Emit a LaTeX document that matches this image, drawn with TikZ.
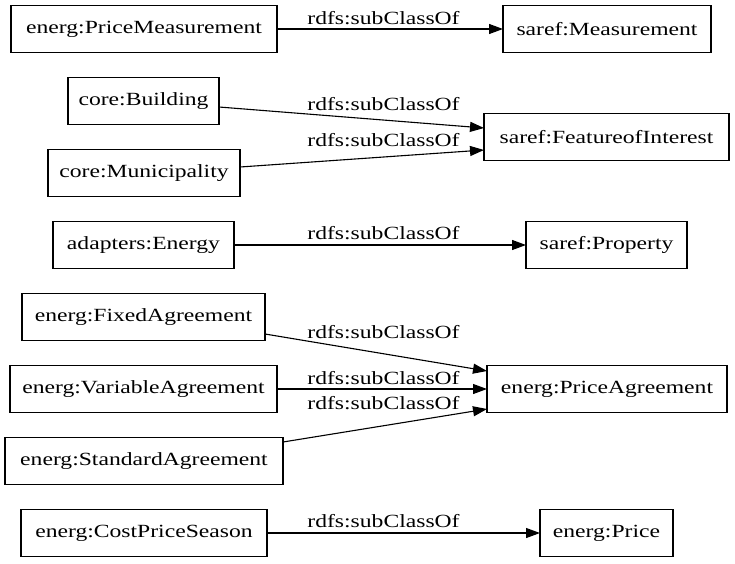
\documentclass[tikz,border=0pt]{standalone}
\usepackage{fontspec}
\setmainfont{Liberation Serif}
\usetikzlibrary{arrows.meta}
\newcommand{\hs}[1]{\scalebox{1.27}[1]{#1}}
\tikzset{
  cls/.style={draw, line width=1.1pt, minimum height=47pt, inner sep=0pt, outer sep=0pt,
    font=\fontsize{18.6}{22}\selectfont},
  lbl/.style={inner sep=0pt, font=\fontsize{18.6}{22}\selectfont},
  sub/.style={line width=1.1pt, -{Triangle[length=14pt,width=10pt]}}
}
\begin{document}
\begin{tikzpicture}[x=1pt, y=-1pt]
\useasboundingbox (0,0) rectangle (735,563);
\node[cls, minimum width=266pt] (pm) at (144,29) {\hs{energ:PriceMeasurement}};
\node[cls, minimum width=208pt] (sm) at (607,29) {\hs{saref:Measurement}};
\node[cls, minimum width=151pt] (bld) at (143.5,101) {\hs{core:Building}};
\node[cls, minimum width=245pt] (foi) at (606.5,137) {\hs{saref:FeatureofInterest}};
\node[cls, minimum width=192pt] (mun) at (144,173) {\hs{core:Municipality}};
\node[cls, minimum width=181pt] (en) at (143.5,245) {\hs{adapters:Energy}};
\node[cls, minimum width=161pt] (prop) at (606.5,245) {\hs{saref:Property}};
\node[cls, minimum width=243pt] (fix) at (143.5,317) {\hs{energ:FixedAgreement}};
\node[cls, minimum width=267pt] (var) at (143.5,389) {\hs{energ:VariableAgreement}};
\node[cls, minimum width=278pt] (std) at (144,461) {\hs{energ:StandardAgreement}};
\node[cls, minimum width=246pt] (cps) at (144,533) {\hs{energ:CostPriceSeason}};
\node[cls, minimum width=240pt] (pa) at (607,389) {\hs{energ:PriceAgreement}};
\node[cls, minimum width=133pt] (pr) at (606.5,533) {\hs{energ:Price}};

\draw[sub] (pm.east) -- (sm.west);
\draw[sub] ([yshift=-6pt]bld.east) -- ([yshift=9pt]foi.west);
\draw[sub] ([yshift=6pt]mun.east) -- ([yshift=-13pt]foi.west);
\draw[sub] (en.east) -- (prop.west);
\draw[sub] ([yshift=-17pt]fix.east) -- ([yshift=18pt]pa.west);
\draw[sub] (var.east) -- (pa.west);
\draw[sub] ([yshift=19pt]std.east) -- ([yshift=-20pt]pa.west);
\draw[sub] (cps.east) -- (pr.west);

\node[lbl] (l1) at (383.5,18) {\hs{rdfs:subClassOf}};
\node[lbl] (l2) at (383.5,104) {\hs{rdfs:subClassOf}};
\node[lbl] (l3) at (383.5,140) {\hs{rdfs:subClassOf}};
\node[lbl] (l4) at (383.5,233) {\hs{rdfs:subClassOf}};
\node[lbl] (l5) at (383.5,331.7) {\hs{rdfs:subClassOf}};
\node[lbl] (l6) at (383.5,377.7) {\hs{rdfs:subClassOf}};
\node[lbl] (l7) at (383.5,403.3) {\hs{rdfs:subClassOf}};
\node[lbl] (l8) at (383.5,520.7) {\hs{rdfs:subClassOf}};
\end{tikzpicture}
\end{document}
